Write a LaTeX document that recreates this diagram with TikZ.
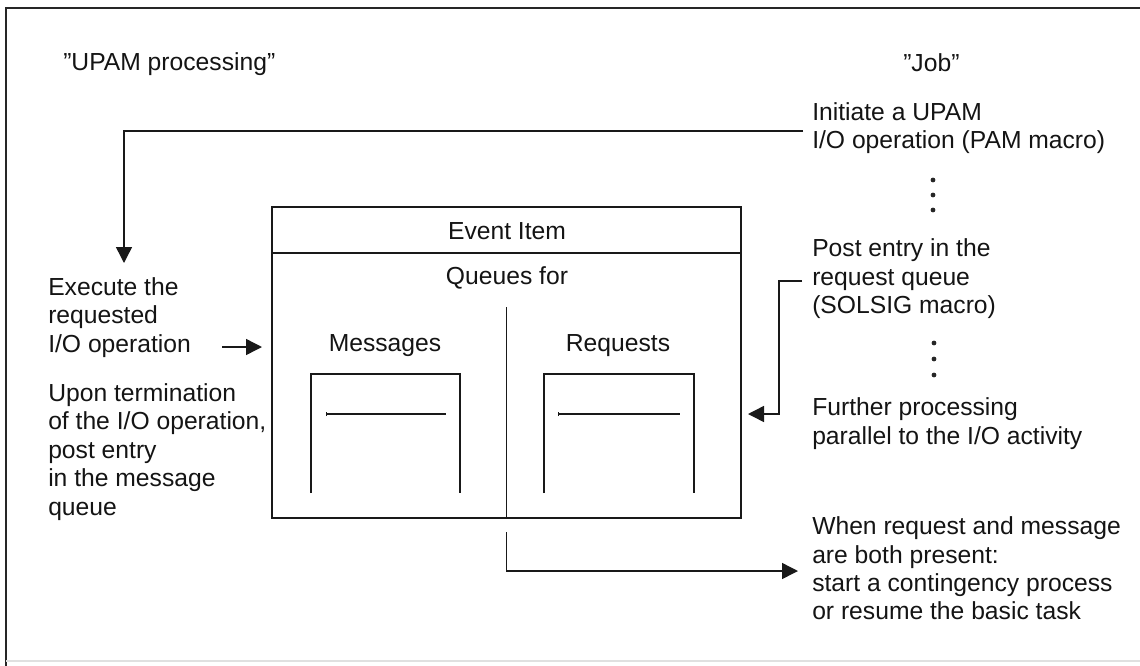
\documentclass[tikz,border=0pt]{standalone}
\usepackage{fontspec}
\setmainfont{Liberation Sans}
\usetikzlibrary{arrows.meta}
\begin{document}
\begin{tikzpicture}[x=0.75pt,y=-0.75pt,
  txt/.style={font=\fontsize{18.5}{21.3}\selectfont, inner sep=0pt, align=left, text=black!92},
  ln/.style={line width=1.1pt, black!90},
  arr/.style={ln,-{Triangle[length=12pt,width=12pt]}},
  dotn/.style={circle, fill=black!85, inner sep=0pt, minimum size=3.6pt},
]
\useasboundingbox (0,0) rectangle (1140,665);
% outer frame
\draw[line width=1.6pt, black!85] (1150,8) -- (6,8) -- (6,670);
\draw[line width=0.8pt, black!12] (6,661) -- (1150,661);

% headings
\node[txt, anchor=west] (upam) at (63,64) {"UPAM processing”};
\node[txt, anchor=west] (job) at (903,63) {"Job”};

% right column
\node[txt, anchor=west] (init) at (812,128) {Initiate a UPAM\\I/O operation (PAM macro)};
\node[dotn] (d1) at (933,180) {};
\node[dotn] (d2) at (933,195) {};
\node[dotn] (d3) at (933,210) {};
\node[txt, anchor=west] (post) at (812,279) {Post entry in the\\request queue\\(SOLSIG macro)};
\node[dotn] (d4) at (934,343) {};
\node[dotn] (d5) at (934,359) {};
\node[dotn] (d6) at (934,375) {};
\node[txt, anchor=west] (further) at (812,423.5) {Further processing\\parallel to the I/O activity};
\node[txt, anchor=west] (when) at (812,568.5) {When request and message\\are both present:\\start a contingency process\\or resume the basic task};

% left column
\node[txt, anchor=west] (exec) at (48,317.5) {Execute the\\requested\\I/O operation};
\node[txt, anchor=west] (upon) at (48,452) {Upon termination\\of the I/O operation,\\post entry\\in the message\\queue};

% event item box
\node[draw, ln, inner sep=0pt, minimum width=351.75pt, minimum height=233.25pt] (ev) at (506.5,362.5) {};
\draw[ln] (272,253) -- (741,253);
\node[txt] (evt) at (507,231) {Event Item};
\node[txt] (qf) at (507,278) {Queues for};
\coordinate (divtop) at (506.5,307);
\draw[ln] (divtop) -- (ev.south);
\node[txt] (msg) at (385,346) {Messages};
\node[txt] (req) at (618,346) {Requests};
% queues
\draw[ln] (311,493) -- (311,374) -- (460,374) -- (460,493);
\draw[ln, {Bar[width=3pt]}-] (326,414) -- (446,414);
\draw[ln] (544,493) -- (544,374) -- (694,374) -- (694,493);
\draw[ln, {Bar[width=3pt]}-] (558,414) -- (680,414);

% connectors
\coordinate (a0) at (803,131);
\coordinate (a1) at (124,131);
\coordinate (a2) at (124,263);
\draw[arr] (a0) -- (a1) -- (a2);

\coordinate (b0) at (222,347);
\coordinate (b1) at (262,347);
\draw[arr] (b0) -- (b1);

\coordinate (c0) at (802,281);
\coordinate (c1) at (779,281);
\coordinate (c2) at (779,414);
\coordinate (c3) at (748,414);
\draw[arr] (c0) -- (c1) -- (c2) -- (c3);

\coordinate (e0) at (506.5,532);
\coordinate (e1) at (506.5,571);
\coordinate (e2) at (798,571);
\draw[arr] (e0) -- (e1) -- (e2);
\end{tikzpicture}
\end{document}
